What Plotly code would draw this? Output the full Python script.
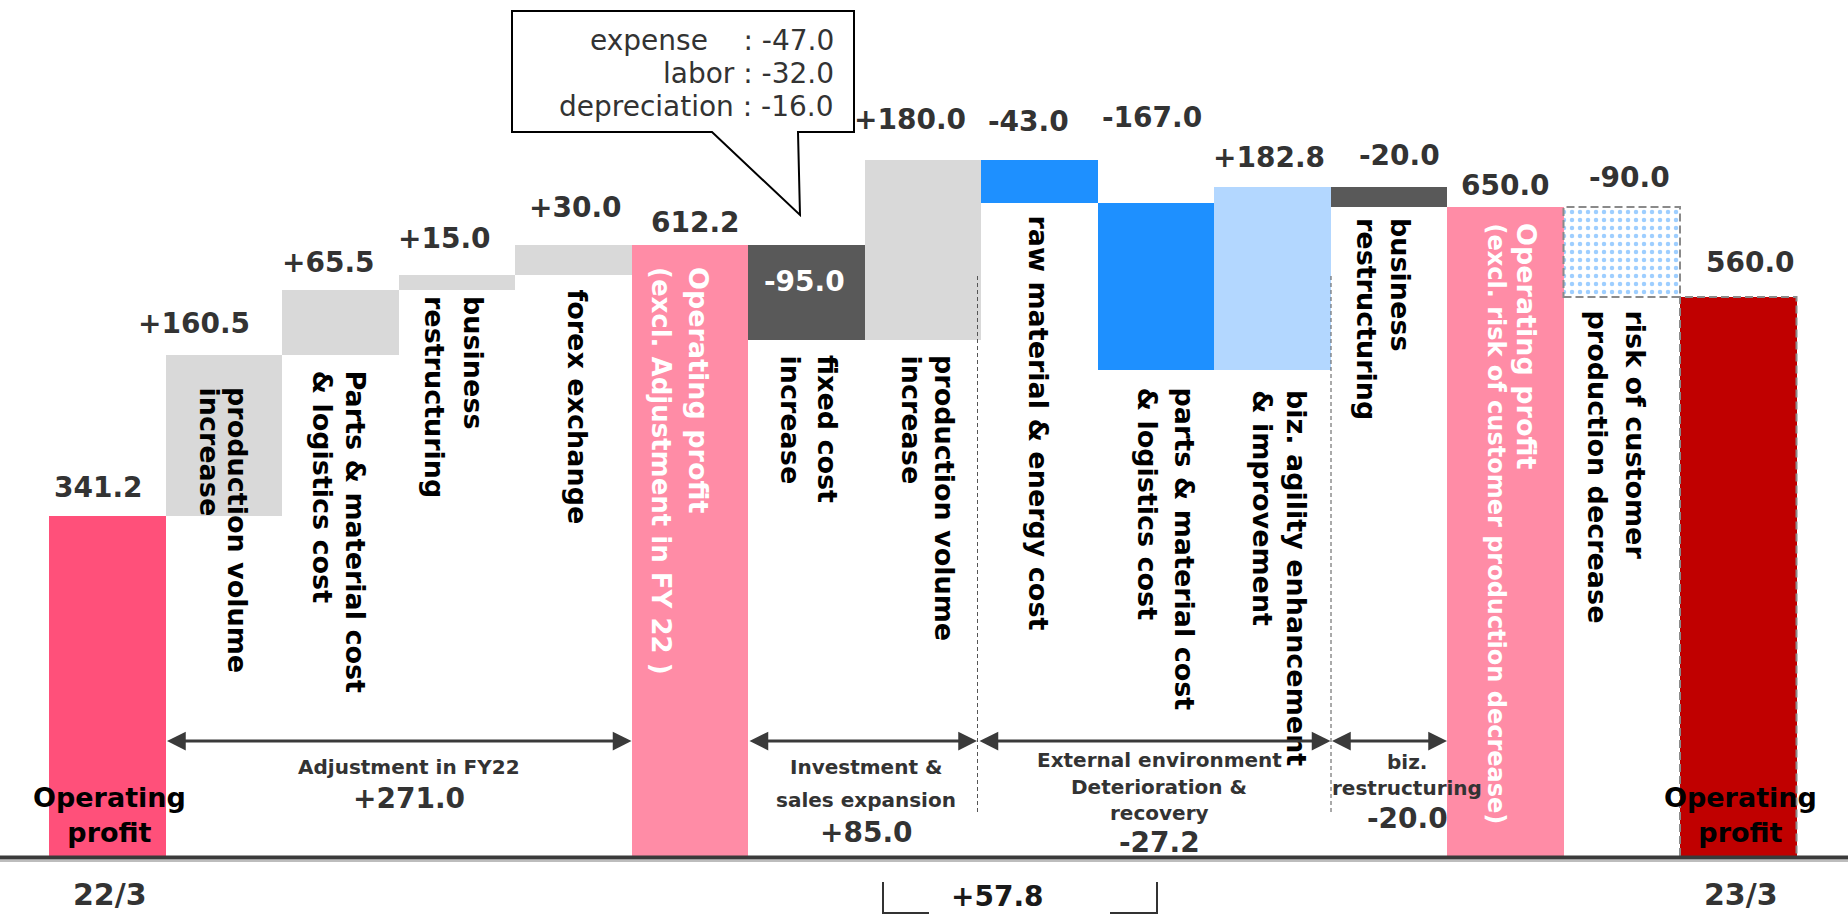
import plotly.graph_objects as go

# ---------------- data ----------------
categories = [
    "Operating profit 22/3",
    "production volume increase",
    "Parts & material cost & logistics cost",
    "business restructuring",
    "forex exchange",
    "Operating profit (excl. Adjustment in FY 22)",
    "fixed cost increase",
    "production volume increase",
    "raw material & energy cost",
    "parts & material cost & logistics cost",
    "biz. agility enhancement & improvement",
    "business restructuring",
    "Operating profit (excl. risk of customer production decrease)",
    "risk of customer production decrease",
    "Operating profit 23/3",
]
values = [341.2, 160.5, 65.5, 15.0, 30.0, 612.2, -95.0, 180.0, -43.0, -167.0,
          182.8, -20.0, 650.0, -90.0, 560.0]
measures = ["total", "relative", "relative", "relative", "relative", "total",
            "relative", "relative", "relative", "relative", "relative",
            "relative", "total", "relative", "total"]
bar_texts = [
    [],
    ["production volume", "increase"],
    ["Parts &amp; material cost", "&amp; logistics cost"],
    ["business", "restructuring"],
    ["forex exchange"],
    ["Operating profit", "(excl. Adjustment in FY 22 )"],
    ["fixed cost", "increase"],
    ["production volume", "increase"],
    ["raw material &amp; energy cost"],
    ["parts &amp; material cost", "&amp; logistics cost"],
    ["biz. agility enhancement", "&amp; improvement"],
    ["business", "restructuring"],
    ["Operating profit", "(excl. risk of customer production decrease)"],
    ["risk of customer", "production decrease"],
    [],
]
group_names = [
    ["Adjustment in FY22"],
    ["Investment &amp;", "sales expansion"],
    ["External environment", "Deterioration &amp;", "recovery"],
    ["biz.", "restructuring"],
]
group_spans = [(1, 4), (6, 7), (8, 10), (11, 11)]
bracket_span = (6, 10)
risk_index = 13
end_labels = ["Operating<br>profit", "Operating<br>profit"]
period_labels = ["22/3", "23/3"]
fixed_cost_items = ["expense", "labor", "depreciation"]
fixed_cost_values = [-47.0, -32.0, -16.0]

# ---------------- styles / layout helpers ----------------
W, H = 1848, 915
PX0, BW, BASE = 107.25, 116.5, 857.0


def X(px):
    return (px - PX0) / BW


def Y(py):
    return BASE - py


FONT = "DejaVu Sans"
bar_colors = ["#FF507A", "#D9D9D9", "#D9D9D9", "#D9D9D9", "#D9D9D9", "#FF8CA6",
              "#595959", "#D9D9D9", "#1E90FF", "#1E90FF", "#B3D7FF", "#595959",
              "#FF8CA6", "#FFFFFF", "#C00000"]
val_dx = [-9, -30, -12, -12, 2, 6, -2, -13, -11, -4, -3, 11, 0, 8, 12]
val_dy = [28, 32, 27, 36, 37, 22, -37, 40, 38, 85, 30, 32, 22, 30, 35]
val_colors = ["#333333"] * 15
val_colors[6] = "#FFFFFF"
# rotated label columns: x centre (px) of each line, top (px), font size per line
cat_line_x = [[], [238, 209], [355, 322], [474, 435], [577], [699, 661], [828, 790],
              [945, 911], [1038], [1184, 1147], [1297, 1263], [1401, 1367],
              [1527, 1496], [1635, 1597], []]
cat_top = [0, 385, 368, 294, 287, 265, 353, 353, 213, 385, 388, 216, 221, 308, 0]
cat_sizes = [[], [27, 27], [27, 27], [27, 27], [27], [27, 26], [27, 27], [27, 27],
             [27], [27, 27], [27, 27], [27, 27], [27, 24], [27, 27], []]
cat_colors = ["#000000"] * 15
cat_colors[5] = "#FFFFFF"
cat_colors[12] = "#FFFFFF"

# ---------------- compute waterfall geometry ----------------
bases, heights = [], []
run = 0.0
for v, m in zip(values, measures):
    if m == "total":
        bases.append(0.0)
        heights.append(v)
        run = v
    else:
        bases.append(run)
        heights.append(v)
        run += v
uppers = [max(b, b + h) for b, h in zip(bases, heights)]
lowers = [min(b, b + h) for b, h in zip(bases, heights)]

solid_idx = [i for i in range(len(values)) if i != risk_index]

fig = go.Figure()
fig.add_trace(go.Bar(
    x=solid_idx, y=[heights[i] for i in solid_idx], base=[bases[i] for i in solid_idx],
    width=1.0,
    marker=dict(color=[bar_colors[i] for i in solid_idx], line=dict(width=0)),
    hovertext=[categories[i] for i in solid_idx], hoverinfo="text", showlegend=False,
))
fig.add_trace(go.Bar(
    x=[risk_index], y=[heights[risk_index]], base=[bases[risk_index]], width=1.0,
    marker=dict(color="#FFFFFF", line=dict(width=0),
                pattern=dict(shape=".", fgcolor="#3D9EFF", bgcolor="#FFFFFF",
                             fillmode="overlay", size=8, solidity=0.25)),
    hovertext=[categories[risk_index]], hoverinfo="text", showlegend=False,
))

ann = []
shapes = []

# value labels
for i, v in enumerate(values):
    txt = f"{v:.1f}" if measures[i] == "total" else f"{v:+.1f}"
    ann.append(dict(x=i + val_dx[i] / BW, y=uppers[i] + val_dy[i], text=txt,
                    showarrow=False, xanchor="center", yanchor="middle",
                    font=dict(family=FONT, size=28, color=val_colors[i], weight="bold")))

# rotated category labels (one column per line)
for i, lines in enumerate(bar_texts):
    for k, t in enumerate(lines):
        ann.append(dict(x=X(cat_line_x[i][k]), y=Y(cat_top[i]), text=t, textangle=90,
                        showarrow=False, xanchor="center", yanchor="top",
                        font=dict(family=FONT, size=cat_sizes[i][k],
                                  color=cat_colors[i], weight="bold")))

# dashed borders for forecast bars
for i in (13, 14):
    shapes.append(dict(type="rect", xref="x", yref="y", x0=i - 0.5, x1=i + 0.5,
                       y0=lowers[i], y1=uppers[i],
                       line=dict(color="#8A8A8A", width=2, dash="8px,4px"),
                       fillcolor="rgba(0,0,0,0)"))

# baseline
shapes.append(dict(type="line", xref="paper", yref="y", x0=0, x1=1, y0=Y(861), y1=Y(861),
                   line=dict(color="#BDBDBD", width=2)))
shapes.append(dict(type="line", xref="paper", yref="y", x0=0, x1=1, y0=Y(857.5), y1=Y(857.5),
                   line=dict(color="#3A3A3A", width=4)))

# group arrows / separators / texts
arrow_ends = [(0.5, 4.5), (5.5, X(977)), (X(978), 10.5), (10.5, 11.5)]
group_cx = [409, 866, 1159, 1407]
group_line_y = [[767], [767, 800], [760, 787, 813], [762, 788]]
group_val_y = [798, 832, 842, 818]
for g, (a, b) in enumerate(arrow_ends):
    ann.append(dict(x=b, y=Y(741), ax=a, ay=Y(741), axref="x", ayref="y",
                    xref="x", yref="y", text="", showarrow=True,
                    arrowhead=2, startarrowhead=2, arrowside="end+start",
                    arrowsize=1.25, startarrowsize=1.25, arrowwidth=3,
                    arrowcolor="#3A3A3A", standoff=0, startstandoff=0))
    for line, ly in zip(group_names[g], group_line_y[g]):
        ann.append(dict(x=X(group_cx[g]), y=Y(ly), text=line, showarrow=False,
                        xanchor="center", yanchor="middle",
                        font=dict(family=FONT, size=20, color="#333333", weight="bold")))
    s0, s1 = group_spans[g]
    gv = sum(values[s0:s1 + 1])
    ann.append(dict(x=X(group_cx[g]), y=Y(group_val_y[g]), text=f"{gv:+.1f}",
                    showarrow=False, xanchor="center", yanchor="middle",
                    font=dict(family=FONT, size=28, color="#333333", weight="bold")))

for sx in (977.5, 1331):
    shapes.append(dict(type="line", xref="x", yref="y", x0=X(sx), x1=X(sx),
                       y0=Y(276), y1=Y(813),
                       line=dict(color="#555555", width=1, dash="4px,3px")))

# end labels
for k, i in enumerate((0, 14)):
    ann.append(dict(x=i + 2 / BW, y=Y(815), text=end_labels[k], showarrow=False,
                    xanchor="center", yanchor="middle",
                    font=dict(family=FONT, size=27, color="#000000", weight="bold")))
    ann.append(dict(x=i + 3 / BW, y=Y(914), text=period_labels[k], showarrow=False,
                    xanchor="center", yanchor="bottom",
                    font=dict(family=FONT, size=30, color="#333333", weight="bold")))

# bracket +57.8
b0, b1 = bracket_span
bt = sum(values[b0:b1 + 1])
shapes.append(dict(type="path", xref="x", yref="y",
                   path=f"M {X(883)},{Y(882)} L {X(883)},{Y(913)} L {X(929)},{Y(913)}",
                   line=dict(color="#333333", width=2)))
shapes.append(dict(type="path", xref="x", yref="y",
                   path=f"M {X(1110)},{Y(913)} L {X(1157)},{Y(913)} L {X(1157)},{Y(882)}",
                   line=dict(color="#333333", width=2)))
ann.append(dict(x=X(997), y=Y(896), text=f"{bt:+.1f}", showarrow=False,
                xanchor="center", yanchor="middle",
                font=dict(family=FONT, size=28, color="#1A1A1A", weight="bold")))

# callout for fixed cost breakdown
callout = (f"M {X(512)},{Y(11)} L {X(854)},{Y(11)} L {X(854)},{Y(132)} "
           f"L {X(798)},{Y(132)} L {X(800)},{Y(215)} L {X(712)},{Y(132)} "
           f"L {X(512)},{Y(132)} Z")
shapes.append(dict(type="path", xref="x", yref="y", path=callout,
                   fillcolor="#FFFFFF", line=dict(color="#000000", width=2)))
pads = ["\u00a0\u00a0\u00a0", "", ""]
for k, (name, v) in enumerate(zip(fixed_cost_items, fixed_cost_values)):
    ann.append(dict(x=X(836), y=Y([40, 73, 106][k]), text=f"{name}{pads[k]} : {v:.1f}",
                    showarrow=False, xanchor="right", yanchor="middle",
                    font=dict(family=FONT, size=28, color="#333333")))

fig.update_layout(
    width=W, height=H, margin=dict(l=0, r=0, t=0, b=0, pad=0),
    paper_bgcolor="white", plot_bgcolor="white", bargap=0, barmode="overlay",
    xaxis=dict(range=[X(0), X(W)], visible=False, fixedrange=True),
    yaxis=dict(range=[Y(H), Y(0)], visible=False, fixedrange=True),
    annotations=ann, shapes=shapes, showlegend=False,
)

fig.write_html("out.html")
